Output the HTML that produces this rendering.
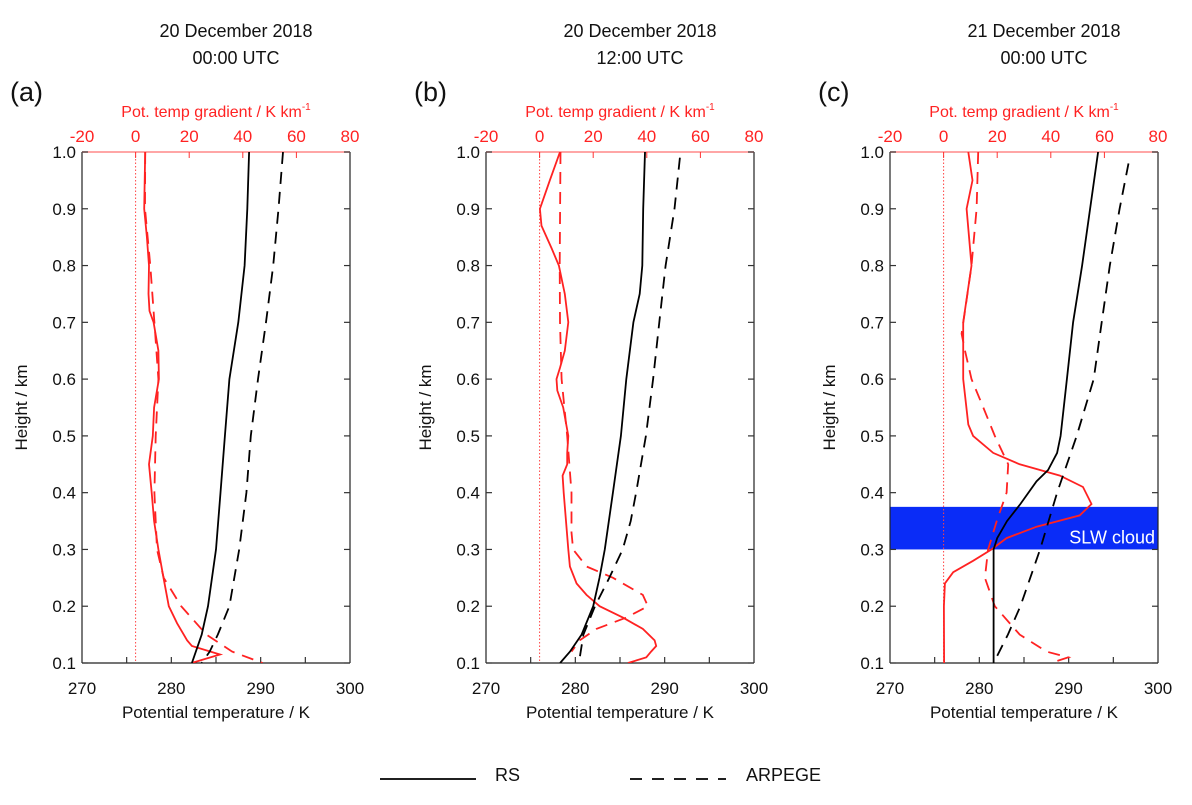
<!DOCTYPE html>
<html><head><meta charset="utf-8">
<style>
body{margin:0;background:#fff;width:1192px;height:800px;overflow:hidden;font-family:"Liberation Sans",sans-serif;}
svg text{font-family:"Liberation Sans",sans-serif;}
</style></head>
<body>
<svg id="chart" width="1192" height="800" xmlns="http://www.w3.org/2000/svg"></svg>
<script>
// ---- data ----
const panelTitles1 = ["20 December 2018","20 December 2018","21 December 2018"];
const panelTitles2 = ["00:00 UTC","12:00 UTC","00:00 UTC"];
const panelLetters = ["(a)","(b)","(c)"];
const heightTicks = [0.1,0.2,0.3,0.4,0.5,0.6,0.7,0.8,0.9,1.0];
const tempTicks = [270,280,290,300];
const gradTicks = [-20,0,20,40,60,80];

// panel a
const aRsH = [1.0,0.9,0.8,0.7,0.6,0.5,0.4,0.3,0.2,0.15,0.1];
const aRsT = [288.7,288.5,288.2,287.5,286.5,286.0,285.5,285.0,284.1,283.4,282.3];
const aArH = [1.0,0.9,0.8,0.7,0.6,0.5,0.4,0.3,0.2,0.15,0.12,0.1];
const aArT = [292.5,292.0,291.4,290.6,289.7,288.9,288.4,287.6,286.5,285.2,284.3,283.4];
const aRsGH = [1.0,0.9,0.85,0.8,0.75,0.72,0.7,0.65,0.6,0.55,0.5,0.45,0.4,0.35,0.3,0.25,0.2,0.17,0.14,0.13,0.115,0.1];
const aRsG = [3.6,3.2,4.2,5.0,4.8,5.2,6.7,8.5,8.7,6.9,6.4,5.0,6.0,6.9,8.5,10.4,12.4,15.5,19.2,21,31.5,20.9];
const aArGH = [1.0,0.9,0.8,0.7,0.6,0.5,0.4,0.3,0.25,0.2,0.15,0.12,0.1];
const aArG = [3.6,3.5,5.5,7.0,8.5,7.5,7.0,8.0,10.5,17,26.4,36,47.4];

// panel b
const bRsH = [1.0,0.9,0.8,0.75,0.7,0.6,0.5,0.4,0.3,0.25,0.2,0.15,0.12,0.1];
const bRsT = [287.8,287.6,287.5,287.2,286.5,285.7,285.1,284.2,283.3,282.7,282.0,280.7,279.4,278.3];
const bArH = [0.99,0.9,0.8,0.7,0.6,0.5,0.4,0.35,0.3,0.25,0.2,0.15,0.1];
const bArT = [291.7,291.1,290.1,289.4,288.7,287.9,286.8,286.2,285.3,283.8,282.2,280.9,280.4];
const bRsGH = [1.0,0.95,0.9,0.87,0.83,0.8,0.75,0.7,0.65,0.62,0.6,0.58,0.55,0.5,0.47,0.45,0.43,0.4,0.3,0.27,0.24,0.22,0.2,0.18,0.16,0.14,0.13,0.12,0.11,0.1];
const bRsG = [7.6,3.8,0.1,0.7,4.5,7.2,9.4,10.7,9.4,7.6,6.3,6.6,8.8,10.7,10.3,10.3,8.6,9.0,10.7,11.3,13.8,17.5,22.4,31.1,38.5,42.9,43.5,41.6,39.8,33];
const bArGH = [1.0,0.8,0.7,0.6,0.5,0.4,0.33,0.3,0.27,0.25,0.22,0.2,0.18,0.16,0.14,0.12];
const bArG = [7.8,7.5,7.6,8.2,10.3,11.9,11.9,12.5,17.5,27.4,38.5,40.4,32.3,21.2,15,11.9];

// panel c
const cRsH = [1.0,0.9,0.8,0.7,0.6,0.5,0.47,0.44,0.42,0.38,0.35,0.32,0.3,0.2,0.1];
const cRsT = [293.3,292.4,291.5,290.5,289.8,289.1,288.7,287.7,286.4,284.6,283.1,282.0,281.6,281.6,281.6];
const cArH = [0.98,0.9,0.8,0.7,0.6,0.5,0.4,0.3,0.2,0.15,0.1];
const cArT = [296.7,295.7,294.6,293.7,292.8,290.9,288.7,286.8,284.6,283.2,281.6];
const cRsGH = [1.0,0.95,0.9,0.8,0.7,0.6,0.52,0.5,0.47,0.45,0.43,0.41,0.38,0.36,0.34,0.32,0.3,0.28,0.26,0.24,0.2,0.1];
const cRsG = [9.2,10.8,8.6,10.4,7.3,7.3,9.2,11,18.5,28.4,43.4,52,55.2,50.8,34.7,23.5,17.9,11,3.6,0.5,0.1,0.2];
const cArGH = [1.0,0.9,0.8,0.72,0.68,0.65,0.6,0.55,0.5,0.45,0.4,0.35,0.32,0.3,0.25,0.2,0.15,0.12,0.11,0.1];
const cArG = [12.9,12.3,10.4,8,6.7,8,10.4,14.8,19.1,24.1,23.5,19.8,17.9,16.6,15.4,19.1,28.4,38.4,46.5,40];

const cloudBottom = 0.30, cloudTop = 0.375;

const panels = [
 {rsH:aRsH,rsT:aRsT,arH:aArH,arT:aArT,rgH:aRsGH,rg:aRsG,agH:aArGH,ag:aArG},
 {rsH:bRsH,rsT:bRsT,arH:bArH,arT:bArT,rgH:bRsGH,rg:bRsG,agH:bArGH,ag:bArG},
 {rsH:cRsH,rsT:cRsT,arH:cArH,arT:cArT,rgH:cRsGH,rg:cRsG,agH:cArGH,ag:cArG,cloud:true}
];
const lefts = [82,486,890];
const W = 268, TOP = 152, BOT = 663;

const svg = document.getElementById('chart');
const NS = 'http://www.w3.org/2000/svg';
function mk(tag, attrs, parent){
  const e = document.createElementNS(NS, tag);
  for (const k in attrs) e.setAttribute(k, attrs[k]);
  (parent||svg).appendChild(e); return e;
}
function txt(s, x, y, size, fill, anchor, parent){
  const t = mk('text',{x:x,y:y,'font-size':size,fill:fill,'text-anchor':anchor||'middle'},parent);
  t.textContent = s; return t;
}

panels.forEach((p, i) => {
  const L = lefts[i];
  const g = mk('g', {});
  
  
  const xT = t => L + (t - 270) / 30 * W;
  const xG = v => L + (v + 20) / 100 * W;
  const yH = h => BOT - (h - 0.1) / 0.9 * (BOT - TOP);
  const cx = L + W/2;

  let t1 = txt(panelTitles1[i], cx+20, 37, 18, '#111', 'middle', g);
  
  
  let t2 = txt(panelTitles2[i], cx+20, 64, 18, '#111', 'middle', g);
  
  
  let pl = txt(panelLetters[i], L-72, 101, 27, '#111', 'start', g);
  
  

  // top red axis title
  const rt = mk('text', {x:cx, y:117, 'font-size':16, fill:'#f22', 'text-anchor':'middle'}, g);
  
  
  rt.innerHTML = 'Pot. temp gradient / K km<tspan dy="-7" font-size="10">-1</tspan>';

  if (p.cloud){
    const r = mk('rect', {x:L, y:yH(cloudTop), width:W, height:yH(cloudBottom)-yH(cloudTop), fill:'#0a2cf7'}, g);
    
    
    const ct = txt('SLW cloud', L+W-3, yH(cloudBottom)-6, 18, '#fff', 'end', g);
    
    
  }

  // zero line
  const z = mk('line', {x1:xG(0), x2:xG(0), y1:TOP, y2:BOT, stroke:'#f44', 'stroke-width':1, 'stroke-dasharray':'1.5,2'}, g);
  
  

  // frame
  mk('line',{x1:L,x2:L,y1:TOP,y2:BOT,stroke:'#222','stroke-width':1.2},g);
  mk('line',{x1:L+W,x2:L+W,y1:TOP,y2:BOT,stroke:'#222','stroke-width':1.2},g);
  mk('line',{x1:L,x2:L+W,y1:BOT,y2:BOT,stroke:'#222','stroke-width':1.2},g);
  const topLine = mk('line',{x1:L,x2:L+W,y1:TOP,y2:TOP,stroke:'#f88','stroke-width':1.5},g);
  
  

  heightTicks.forEach(h => {
    const y = yH(h);
    mk('line',{x1:L,x2:L+6,y1:y,y2:y,stroke:'#333','stroke-width':1.2},g);
    mk('line',{x1:L+W-6,x2:L+W,y1:y,y2:y,stroke:'#333','stroke-width':1.2},g);
    const lt = txt(h.toFixed(1), L-6, y+6, 17, '#111', 'end', g);
    
    
  });
  for (let t = 275; t < 300; t += 5){
    mk('line',{x1:xT(t),x2:xT(t),y1:BOT,y2:BOT-6,stroke:'#333','stroke-width':1.2},g);
  }
  tempTicks.forEach(t => {
    const lt = txt(String(t), xT(t), BOT+31, 17, '#111', 'middle', g);
    
    
  });
  gradTicks.forEach(v => {
    if (v > -20 && v < 80) mk('line',{x1:xG(v),x2:xG(v),y1:TOP,y2:TOP+6,stroke:'#f33','stroke-width':1},g);
    const lt = txt(String(v), xG(v), TOP-10, 17, '#f22', 'middle', g);
    
    
  });

  const xl = txt('Potential temperature / K', cx, 718, 17, '#111', 'middle', g);
  
  
  const yl = txt('Height / km', 0, 0, 17, '#111', 'middle', g);
  yl.setAttribute('transform', `translate(${L-55},${(TOP+BOT)/2}) rotate(-90)`);
  
  

  const path = (hs, vs, fx) => hs.map((h,k) => (k?'L':'M') + fx(vs[k]).toFixed(1) + ',' + yH(h).toFixed(1)).join(' ');
  const cp = mk('clipPath', {id:'clip'+i}, g);
  mk('rect', {x:L, y:TOP, width:W, height:BOT-TOP}, cp);

  const s1 = mk('path',{d:path(p.rgH,p.rg,xG),fill:'none',stroke:'#f22','stroke-width':1.8,'clip-path':`url(#clip${i})`},g);
  
  
  const s2 = mk('path',{d:path(p.agH,p.ag,xG),fill:'none',stroke:'#f22','stroke-width':1.8,'stroke-dasharray':'12,8','clip-path':`url(#clip${i})`},g);
  
  
  const s3 = mk('path',{d:path(p.rsH,p.rsT,xT),fill:'none',stroke:'#000','stroke-width':1.8,'clip-path':`url(#clip${i})`},g);
  
  
  const s4 = mk('path',{d:path(p.arH,p.arT,xT),fill:'none',stroke:'#000','stroke-width':1.8,'stroke-dasharray':'12,8','clip-path':`url(#clip${i})`},g);
  
  
});

// legend
const lg = mk('g', {});


const l1 = mk('line',{x1:380,x2:476,y1:779,y2:779,stroke:'#000','stroke-width':1.8},lg);


const lt1 = txt('RS', 495, 781, 18, '#111', 'start', lg);


const l2 = mk('line',{x1:630,x2:726,y1:779,y2:779,stroke:'#000','stroke-width':1.8,'stroke-dasharray':'12,10'},lg);


const lt2 = txt('ARPEGE', 746, 781, 18, '#111', 'start', lg);


</script>
</body></html>
